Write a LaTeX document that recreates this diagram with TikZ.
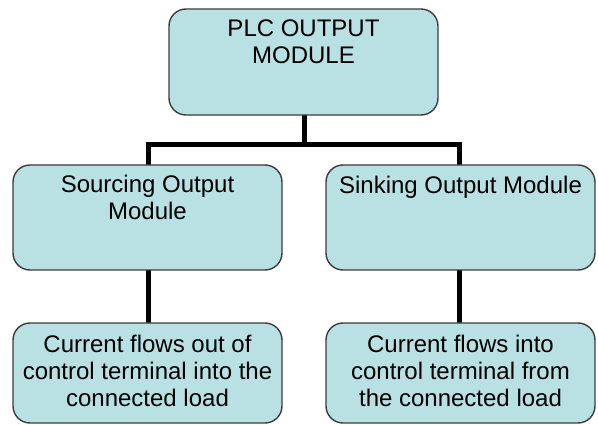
\documentclass[tikz,border=0pt]{standalone}
\usepackage{fontspec}
\setmainfont{Liberation Sans}
\definecolor{boxfill}{RGB}{185,224,227}
\definecolor{boxdraw}{RGB}{60,60,60}
\begin{document}
\begin{tikzpicture}[x=1pt,y=-1pt,
  box/.style={draw=boxdraw,line width=1.4pt,fill=boxfill,rounded corners=17pt},
  lbl/.style={inner sep=0pt,align=center,font=\fontsize{24}{26.8}\selectfont},
  conn/.style={line width=5pt,draw=black}]
\useasboundingbox (0,0) rectangle (598,425);
% connectors first
\coordinate (top) at (304,115);
\coordinate (lj) at (148,145);
\coordinate (rj) at (459.5,145);
\draw[conn] (top) -- (304,145);
\draw[conn,line join=miter] (148,166) -- (lj) -- (rj) -- (459.5,166);
\draw[conn] (148,269) -- (148,324);
\draw[conn] (459.5,269) -- (459.5,324);
% boxes
\draw[box] (169,9) rectangle (438,115);
\node[lbl,anchor=north] (t) at (303.5,20) {PLC OUTPUT\\MODULE};
\draw[box] (13,165) rectangle (282,270);
\node[lbl,anchor=north] (s) at (147.5,175) {Sourcing Output\\Module};
\draw[box] (326,165) rectangle (595,270);
\node[lbl,anchor=north] (k) at (460.5,176) {Sinking Output Module};
\draw[box] (13,323) rectangle (282,423);
\node[lbl] (sd) at (147.5,371) {Current flows out of\\control terminal into the\\connected load};
\draw[box] (326,323) rectangle (595,423);
\node[lbl] (kd) at (460.5,371) {Current flows into\\control terminal from\\the connected load};
\end{tikzpicture}
\end{document}
